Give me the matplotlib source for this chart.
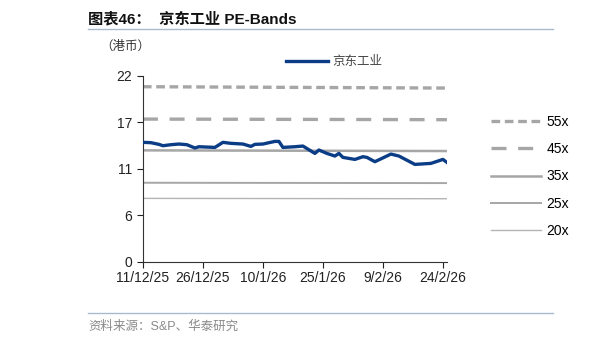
import pandas as pd
import numpy as np
import matplotlib.pyplot as plt
import matplotlib.dates as mdates
from matplotlib.lines import Line2D

# 京东工业 股价 (港币)
dates = ['2025-12-11', '2025-12-13', '2025-12-15', '2025-12-16', '2025-12-18',
         '2025-12-20', '2025-12-22', '2025-12-24', '2025-12-25', '2025-12-27',
         '2025-12-29', '2025-12-31', '2026-01-02', '2026-01-05', '2026-01-07',
         '2026-01-08', '2026-01-10', '2026-01-13', '2026-01-14', '2026-01-15',
         '2026-01-18', '2026-01-20', '2026-01-23', '2026-01-24', '2026-01-26',
         '2026-01-28', '2026-01-29', '2026-01-30', '2026-02-02', '2026-02-04',
         '2026-02-05', '2026-02-07', '2026-02-11', '2026-02-13', '2026-02-17',
         '2026-02-21', '2026-02-24', '2026-02-25']
price = [14.12, 14.08, 13.88, 13.72, 13.84, 13.92, 13.84, 13.45, 13.60, 13.56,
         13.52, 14.12, 14.00, 13.92, 13.64, 13.88, 13.92, 14.23, 14.23, 13.52,
         13.60, 13.68, 12.81, 13.21, 12.81, 12.50, 12.81, 12.34, 12.10, 12.42,
         12.34, 11.83, 12.73, 12.50, 11.51, 11.63, 12.10, 11.75]

# PE 通道
band_labels = ['55x', '45x', '35x', '25x', '20x']
band_start = [20.70, 16.87, 13.17, 9.34, 7.49]
band_end = [20.54, 16.80, 13.09, 9.30, 7.45]

xtick_dates = ['2025-12-11', '2025-12-26', '2026-01-10', '2026-01-25', '2026-02-09', '2026-02-24']
xtick_labels = ['11/12/25', '26/12/25', '10/1/26', '25/1/26', '9/2/26', '24/2/26']
ytick_pos = [0, 5.5, 11, 16.5, 22]
ytick_labels = ['0', '6', '11', '17', '22']

plt.rcParams['font.family'] = ['Liberation Sans', 'Noto Sans CJK SC', 'DejaVu Sans']

band_color = '#a6a6a6'
band_styles = [
    dict(lw=2.4, ls=(0, (2.6, 1.4)), color=band_color),
    dict(lw=2.4, ls=(0, (4.5, 3.5)), color=band_color),
    dict(lw=1.8, ls='-', color=band_color),
    dict(lw=1.4, ls='-', color=band_color),
    dict(lw=1.0, ls='-', color='#b4b4b4'),
]

x = pd.to_datetime(dates)
x0, x1 = x[0], x[-1]

fig = plt.figure(figsize=(6.16, 3.44), dpi=100)
ax = fig.add_axes([0.232, 0.2392, 0.4935, 0.5407])

handles = []
for lab, s, e, st in zip(band_labels, band_start, band_end, band_styles):
    h, = ax.plot([x0, x1], [s, e], label=lab, **st)
    handles.append(h)

line, = ax.plot(x, price, color='#0b3d86', lw=2.4, label='京东工业', zorder=5)

ax.set_xlim(x0, x1)
ax.set_ylim(0, 22)
ax.set_yticks(ytick_pos)
ax.set_yticklabels(ytick_labels)
ax.set_xticks(pd.to_datetime(xtick_dates))
ax.set_xticklabels(xtick_labels)
ax.tick_params(axis='both', labelsize=10, direction='out', length=4, width=0.8, colors='#222222')
ax.tick_params(axis='x', pad=3)
for sp in ['top', 'right']:
    ax.spines[sp].set_visible(False)
for sp in ['left', 'bottom']:
    ax.spines[sp].set_color('#333333')
    ax.spines[sp].set_linewidth(0.8)

# 图例
fig.legend(handles=[line], labels=['京东工业'], loc='center left',
           bbox_to_anchor=(0.446, 0.82), frameon=False, fontsize=9,
           handlelength=3.4, handletextpad=0.3, labelcolor='#444444')
fig.legend(handles=handles, labels=band_labels, loc='upper left',
           bbox_to_anchor=(0.777, 0.702), frameon=False, fontsize=10,
           handlelength=3.6, handletextpad=0.4, labelspacing=0.95)

# 标题与注释
fig.text(0.143, 0.945, '图表46：  京东工业 PE-Bands', fontsize=11, fontweight='bold',
         ha='left', va='center', color='#111111')
fig.add_artist(Line2D([0.143, 0.898], [0.915, 0.915], color='#a9bace', lw=1.0))
fig.text(0.163, 0.865, '（港币）', fontsize=9, ha='left', va='center', color='#333333')
fig.add_artist(Line2D([0.143, 0.898], [0.09, 0.09], color='#a9bace', lw=1.0))
fig.text(0.143, 0.052, '资料来源：S&P、华泰研究', fontsize=9, ha='left', va='center', color='#8a8a8a')

fig.savefig('out.png', dpi=100)
